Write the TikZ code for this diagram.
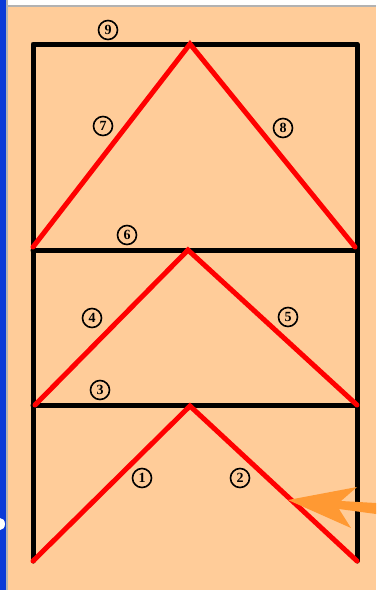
\documentclass[tikz,border=0pt]{standalone}
\usepackage{fontspec}
\setmainfont{Liberation Serif}
\begin{document}
\begin{tikzpicture}[x=1pt,y=-1pt,
  frame/.style={line width=5pt,black,line cap=round,line join=round},
  member/.style={line width=5pt,red,line cap=round,line join=miter},
  num/.style={circle,draw,line width=1.6pt,inner sep=0pt,minimum size=19pt,font=\bfseries\fontsize{14}{14}\selectfont}]
\definecolor{peach}{HTML}{FFCC99}
\definecolor{winblue}{HTML}{0A3AD8}
\definecolor{arroworange}{HTML}{FF9933}
\useasboundingbox (0,0) rectangle (376,590);
\fill[peach] (0,0) rectangle (376,590);
\fill[white] (8,0) rectangle (376,5);
\fill[gray!60] (8,5) rectangle (376,7);
\fill[winblue] (0,0) rectangle (6,590);
\fill[gray!60] (6,0) rectangle (8,590);
\fill[white] (0,530) arc[start angle=-90,end angle=90,x radius=5,y radius=-6] -- cycle;
% coordinates
\coordinate (TL) at (33,44);
\coordinate (TR) at (357,44);
\coordinate (ML) at (33,250);
\coordinate (MR) at (357,250);
\coordinate (LL) at (33,405);
\coordinate (LR) at (357,405);
\coordinate (BL) at (33,561);
\coordinate (BR) at (357,561);
\coordinate (A1) at (190,44);
\coordinate (A2) at (188,250);
\coordinate (A3) at (190,406);
% frame
\draw[frame] (BL) -- (TL) -- (TR) -- (BR);
\draw[frame] (ML) -- (MR);
\draw[frame] (LL) -- (LR);
% members
\draw[member] (33,247) -- (A1) -- (355,247);
\draw[member] (35,405) -- (A2) -- (357,405);
\draw[member] (BL) -- (A3) -- (357,561);
% labels
\node[num] (n9) at (108,30) {9};
\node[num] (n7) at (103,126) {7};
\node[num] (n8) at (283,128) {8};
\node[num] (n6) at (127,235) {6};
\node[num] (n4) at (92,318) {4};
\node[num] (n5) at (288,317) {5};
\node[num] (n3) at (100,390) {3};
\node[num] (n1) at (142,478) {1};
\node[num] (n2) at (240,478) {2};
% orange arrow
\fill[arroworange] (288,500) -- (357,487) -- (341,501) -- (376,503) -- (376,514) -- (339,509) -- (351,528) -- cycle;
\end{tikzpicture}
\end{document}
